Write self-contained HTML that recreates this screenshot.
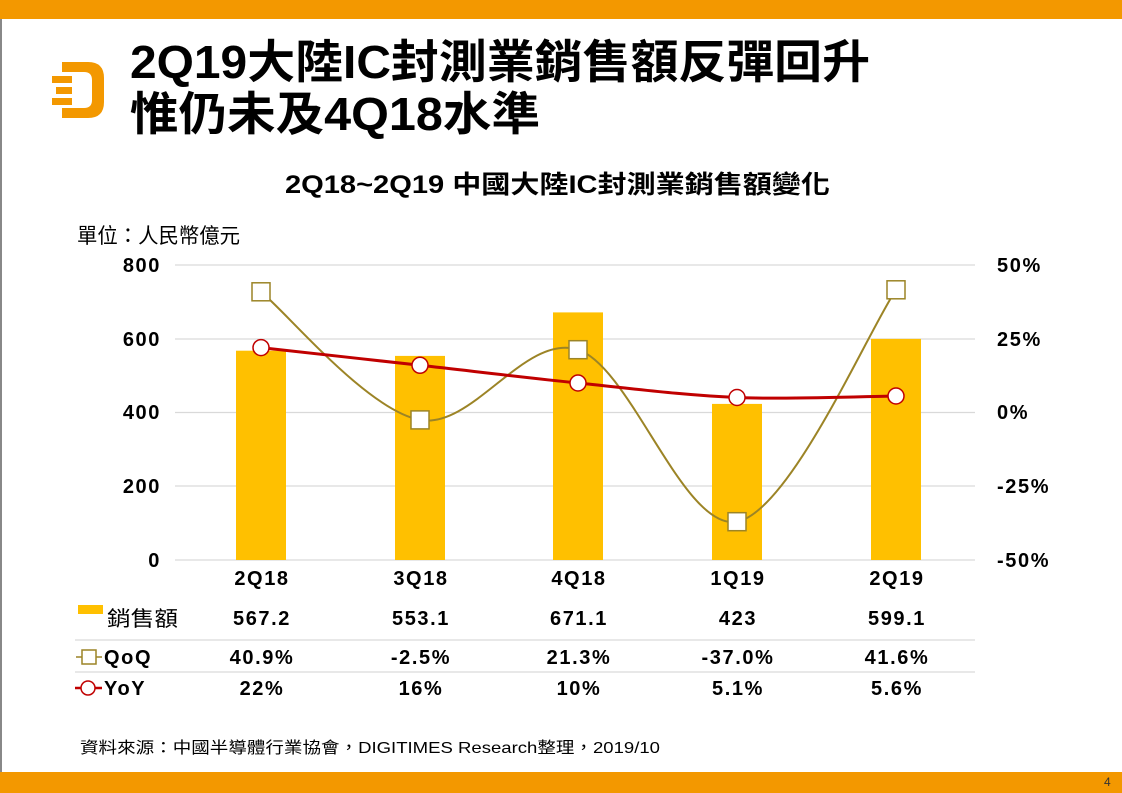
<!DOCTYPE html>
<html><head><meta charset="utf-8"><style>
body{margin:0;width:1122px;height:793px;overflow:hidden;background:#fff;font-family:"Liberation Sans","Noto Sans CJK TC",sans-serif;}
.n{font-size:20px;font-weight:bold;letter-spacing:1.6px}
</style></head><body>
<svg width="1122" height="793" xmlns="http://www.w3.org/2000/svg" style="position:absolute;left:0;top:0;font-family:'Liberation Sans','Noto Sans CJK TC',sans-serif">
<rect x="0" y="0" width="1122" height="19" fill="#f39800"/>
<rect x="0" y="772" width="1122" height="21" fill="#f39800"/>
<rect x="0" y="19" width="2" height="753" fill="#888"/>
<text x="1104" y="786" font-size="12" fill="#333">4</text>
<g fill="#f39800">
<path d="M62 62 H88 Q104 62 104 78 V102 Q104 118 88 118 H62 V108 H84 Q92 108 92 100 V80 Q92 72 84 72 H62 Z"/>
<rect x="52" y="76" width="20" height="7"/><rect x="56" y="87" width="16" height="7"/><rect x="52" y="98" width="20" height="7"/>
</g>
<g font-size="46" font-weight="bold" fill="#000">
<text x="130" y="78" textLength="740" lengthAdjust="spacingAndGlyphs">2Q19大陸IC封測業銷售額反彈回升</text>
<text x="130" y="130" textLength="410" lengthAdjust="spacingAndGlyphs">惟仍未及4Q18水準</text>
</g>
<text x="285" y="193" font-size="25" font-weight="bold" textLength="545" lengthAdjust="spacingAndGlyphs">2Q18~2Q19 中國大陸IC封測業銷售額變化</text>
<text x="77" y="243" font-size="21" textLength="163" lengthAdjust="spacingAndGlyphs">單位：人民幣億元</text>
<g stroke="#d9d9d9" stroke-width="1.3">
<line x1="175" y1="265" x2="975" y2="265"/><line x1="175" y1="339" x2="975" y2="339"/>
<line x1="175" y1="412.5" x2="975" y2="412.5"/><line x1="175" y1="486" x2="975" y2="486"/>
<line x1="175" y1="560" x2="975" y2="560"/>
<line x1="75" y1="640" x2="975" y2="640"/><line x1="75" y1="672" x2="975" y2="672"/>
</g>
<g class="n" text-anchor="end">
<text x="161" y="272">800</text><text x="161" y="346">600</text><text x="161" y="419">400</text><text x="161" y="493">200</text><text x="161" y="567">0</text>
</g>
<g class="n">
<text x="997" y="272">50%</text><text x="997" y="346">25%</text><text x="997" y="419">0%</text><text x="997" y="493">-25%</text><text x="997" y="567">-50%</text>
</g>
<g fill="#ffc000">
<rect x="236" y="350.7" width="50" height="209.3"/>
<rect x="395" y="355.9" width="50" height="204.1"/>
<rect x="553" y="312.4" width="50" height="247.6"/>
<rect x="712" y="403.9" width="50" height="156.1"/>
<rect x="871" y="338.9" width="50" height="221.1"/>
</g>
<path d="M261 291.8 C287.5 313.2 367.2 410.2 420 419.9 C472.8 429.5 525.2 332.7 578 349.7 C630.8 366.7 684 531.7 737 521.7 C790 511.7 869.5 328.5 896 289.8" fill="none" stroke="#9c8426" stroke-width="2"/>
<path d="M261 347.6 C287.5 350.5 367.2 359.4 420 365.3 C472.8 371.2 525.2 377.6 578 383 C630.8 388.4 684 395.3 737 397.5 C790 399.7 869.5 396.3 896 396" fill="none" stroke="#c00000" stroke-width="3"/>
<g fill="#fff" stroke="#9c8426" stroke-width="1.5">
<rect x="252" y="282.8" width="18" height="18"/><rect x="411" y="410.9" width="18" height="18"/>
<rect x="569" y="340.7" width="18" height="18"/><rect x="728" y="512.7" width="18" height="18"/>
<rect x="887" y="280.8" width="18" height="18"/>
</g>
<g fill="#fff" stroke="#c00000" stroke-width="1.5">
<circle cx="261" cy="347.6" r="8"/><circle cx="420" cy="365.3" r="8"/><circle cx="578" cy="383" r="8"/><circle cx="737" cy="397.5" r="8"/><circle cx="896" cy="396" r="8"/>
</g>
<g class="n" text-anchor="middle">
<text x="262" y="585">2Q18</text><text x="421" y="585">3Q18</text><text x="579" y="585">4Q18</text><text x="738" y="585">1Q19</text><text x="897" y="585">2Q19</text>
<text x="262" y="625">567.2</text><text x="421" y="625">553.1</text><text x="579" y="625">671.1</text><text x="738" y="625">423</text><text x="897" y="625">599.1</text>
<text x="262" y="664">40.9%</text><text x="421" y="664">-2.5%</text><text x="579" y="664">21.3%</text><text x="738" y="664">-37.0%</text><text x="897" y="664">41.6%</text>
<text x="262" y="695">22%</text><text x="421" y="695">16%</text><text x="579" y="695">10%</text><text x="738" y="695">5.1%</text><text x="897" y="695">5.6%</text>
</g>
<rect x="78" y="605" width="25" height="9" fill="#ffc000"/>
<text x="107" y="626" font-size="21" textLength="71" lengthAdjust="spacingAndGlyphs">銷售額</text>
<line x1="76" y1="657" x2="102" y2="657" stroke="#9c8426" stroke-width="1.5"/>
<rect x="82" y="650" width="14" height="14" fill="#fff" stroke="#9c8426" stroke-width="1.5"/>
<text x="104" y="664" class="n">QoQ</text>
<line x1="75" y1="688" x2="102" y2="688" stroke="#c00000" stroke-width="2.5"/>
<circle cx="88" cy="688" r="7" fill="#fff" stroke="#c00000" stroke-width="1.5"/>
<text x="104" y="695" class="n">YoY</text>
<text x="80" y="753" font-size="16" textLength="580" lengthAdjust="spacingAndGlyphs">資料來源：中國半導體行業協會，DIGITIMES Research整理，2019/10</text>
</svg>
</body></html>
